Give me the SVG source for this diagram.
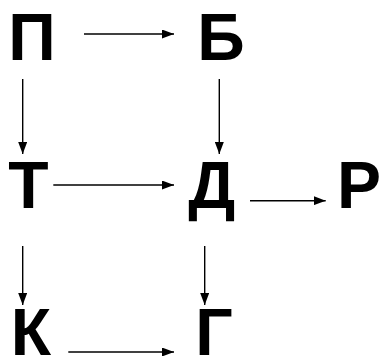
<svg xmlns="http://www.w3.org/2000/svg" width="386" height="356" viewBox="0 0 386 356">
<style>
.lbl{font-family:"Liberation Sans",Arial,sans-serif;font-weight:bold;font-size:66px;fill:#000;text-anchor:middle}
.edge{stroke:#000;stroke-width:1.4;fill:none;marker-end:url(#ah)}
</style>
<defs>
<marker id="ah" markerUnits="userSpaceOnUse" markerWidth="12" markerHeight="9" refX="12" refY="4.5" orient="auto">
<path d="M0,0 L12,4.5 L0,9 z" fill="#000"/>
</marker>
</defs>
<rect width="386" height="356" fill="#fff"/>
<g id="connectors">
<line class="edge" x1="84" y1="34" x2="174" y2="34"/>
<line class="edge" x1="22.7" y1="79" x2="22.7" y2="154"/>
<line class="edge" x1="219.3" y1="79" x2="219.3" y2="154"/>
<line class="edge" x1="53.3" y1="185" x2="174" y2="185"/>
<line class="edge" x1="250" y1="200.7" x2="325.7" y2="200.7"/>
<line class="edge" x1="22.7" y1="246" x2="22.7" y2="305"/>
<line class="edge" x1="204.7" y1="246" x2="204.7" y2="305"/>
<line class="edge" x1="68.3" y1="352" x2="174" y2="352"/>
</g>
<g id="node-P"><text class="lbl" x="32" y="60">П</text></g>
<g id="node-B"><text class="lbl" x="221" y="60">Б</text></g>
<g id="node-T"><text class="lbl" x="28.3" y="208.3">Т</text></g>
<g id="node-D"><text class="lbl" x="211.8" y="207.5">Д</text></g>
<g id="node-R"><text class="lbl" x="359" y="208.3">Р</text></g>
<g id="node-K"><text class="lbl" x="31" y="355">К</text></g>
<g id="node-G"><text class="lbl" x="214" y="355">Г</text></g>
</svg>
